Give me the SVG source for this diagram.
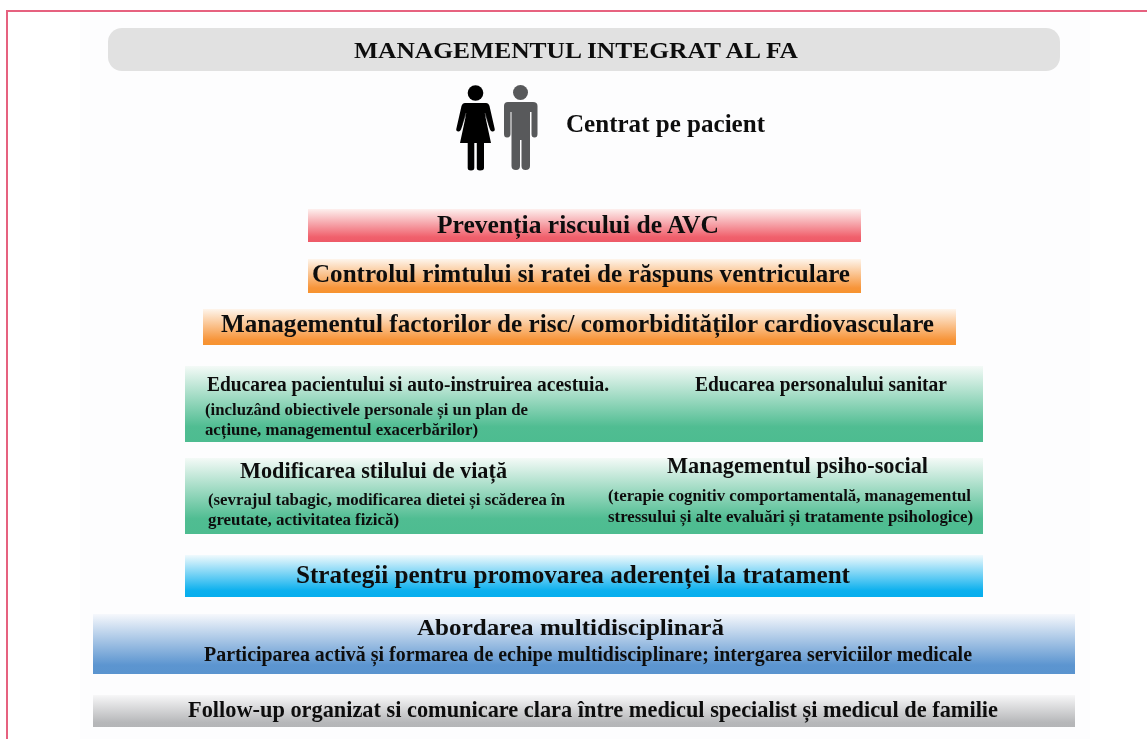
<svg xmlns="http://www.w3.org/2000/svg" width="1147" height="739" viewBox="0 0 1147 739">
<style>
text{font-family:"Liberation Serif","Times New Roman",serif;font-weight:bold;fill:#111}
.h1{font-size:24px}.h2{font-size:25px}.h3{font-size:20px}.h4{font-size:23px}.s{font-size:17px}.p{font-size:20px}.f{font-size:22.500px}
</style>
<defs>
<linearGradient id="red" x1="0" y1="0" x2="0" y2="1"><stop offset="0" stop-color="#fdf0ee"/><stop offset="0.85" stop-color="#f0606c"/><stop offset="1" stop-color="#ee5a68"/></linearGradient>
<linearGradient id="orange" x1="0" y1="0" x2="0" y2="1"><stop offset="0" stop-color="#fef5ec"/><stop offset="0.85" stop-color="#f7953a"/><stop offset="1" stop-color="#f7932f"/></linearGradient>
<linearGradient id="green" x1="0" y1="0" x2="0" y2="1"><stop offset="0" stop-color="#f4faf7"/><stop offset="0.8" stop-color="#50bd92"/><stop offset="1" stop-color="#4dbc90"/></linearGradient>
<linearGradient id="cyan" x1="0" y1="0" x2="0" y2="1"><stop offset="0" stop-color="#f0fafd"/><stop offset="0.85" stop-color="#0cb0ee"/><stop offset="1" stop-color="#06aeee"/></linearGradient>
<linearGradient id="blue" x1="0" y1="0" x2="0" y2="1"><stop offset="0" stop-color="#f6f8fc"/><stop offset="0.85" stop-color="#5c95d0"/><stop offset="1" stop-color="#5a94cf"/></linearGradient>
<linearGradient id="grey" x1="0" y1="0" x2="0" y2="1"><stop offset="0" stop-color="#f7f7f8"/><stop offset="0.85" stop-color="#b7b8ba"/><stop offset="1" stop-color="#b4b5b7"/></linearGradient>
<filter id="soft" x="-2%" y="-20%" width="104%" height="140%"><feGaussianBlur stdDeviation="0.45"/></filter>
</defs>
<rect width="1147" height="739" fill="#fff"/>
<rect x="80" y="13" width="1010" height="726" fill="#fdfdfe"/>
<path d="M7 739V11H1147" fill="none" stroke="#e6617f" stroke-width="2"/>

<g id="title">
<rect x="108" y="28" width="952" height="43" rx="14" fill="#e1e1e1"/>
<text class="h1" x="354" y="58" textLength="444" lengthAdjust="spacingAndGlyphs" filter="url(#soft)">MANAGEMENTUL INTEGRAT AL FA</text>
</g>

<g id="patient">
<g id="woman">
<circle cx="475.500" cy="93" r="7.800" fill="#000"/>
<path fill="#000" d="M465 103H486Q488.500 103 489.500 106L494.500 128Q495.500 131 493 131.500Q491 132 490 129.500L485 115L491 143H484V168Q484 170.500 480 170.500Q476.800 170.500 476.800 168V143H474.300V168Q474.300 170.500 471 170.500Q467.700 170.500 467.700 168V143H460L466 115L461 129.500Q460 132 458 131.500Q455.500 131 456.500 128L461.500 106Q462.500 103 465 103Z"/>
<path d="M466 113L463 124M485 113L488 124" stroke="#fff" stroke-width="0.600" fill="none" opacity="0.500"/>
</g>
<g id="man">
<circle cx="520.500" cy="92.500" r="7.500" fill="#58595b"/>
<path fill="#58595b" d="M508 102H533Q537.500 102 537.500 106V134Q537.500 137.500 534.500 137.500Q531.500 137.500 531.500 134V112H530V166Q530 170 525.500 170Q521.500 170 521.500 166V140H520V166Q520 170 516 170Q511.500 170 511.500 166V112H510.500V134Q510.500 137.500 507 137.500Q504 137.500 504 134V106Q504 102 508 102Z"/>
</g>
<text class="h2" x="566" y="132" textLength="199" lengthAdjust="spacingAndGlyphs" filter="url(#soft)">Centrat pe pacient</text>
</g>

<g id="stroke-prevention">
<rect x="308" y="209" width="553" height="33" fill="url(#red)"/>
<text class="h2" x="437" y="233" textLength="282" lengthAdjust="spacingAndGlyphs" filter="url(#soft)">Prevenția riscului de AVC</text>
</g>
<g id="rhythm-control">
<rect x="308" y="259" width="553" height="34" fill="url(#orange)"/>
<text class="h2" x="312" y="282" textLength="538" lengthAdjust="spacingAndGlyphs" filter="url(#soft)">Controlul rimtului si ratei de răspuns ventriculare</text>
</g>
<g id="risk-factors">
<rect x="203" y="309" width="753" height="36" fill="url(#orange)"/>
<text class="h2" x="221" y="332" textLength="713" lengthAdjust="spacingAndGlyphs" filter="url(#soft)">Managementul factorilor de risc/ comorbidităților cardiovasculare</text>
</g>
<g id="education">
<rect x="185" y="366" width="798" height="76" fill="url(#green)"/>
<text class="h3" x="207" y="391" textLength="402" lengthAdjust="spacingAndGlyphs" filter="url(#soft)">Educarea pacientului si auto-instruirea acestuia.</text>
<text class="h3" x="695" y="391" textLength="252" lengthAdjust="spacingAndGlyphs" filter="url(#soft)">Educarea personalului sanitar</text>
<text class="s" x="205" y="415" textLength="323" lengthAdjust="spacingAndGlyphs" filter="url(#soft)">(incluzând obiectivele personale și un plan de</text>
<text class="s" x="205" y="435" textLength="273" lengthAdjust="spacingAndGlyphs" filter="url(#soft)">acțiune, managementul exacerbărilor)</text>
</g>
<g id="lifestyle">
<rect x="185" y="458" width="798" height="76" fill="url(#green)"/>
<text class="h4" x="240" y="478" textLength="267" lengthAdjust="spacingAndGlyphs" filter="url(#soft)">Modificarea stilului de viață</text>
<text class="s" x="208" y="505" textLength="357" lengthAdjust="spacingAndGlyphs" filter="url(#soft)">(sevrajul tabagic, modificarea dietei și scăderea în</text>
<text class="s" x="208" y="525" textLength="191" lengthAdjust="spacingAndGlyphs" filter="url(#soft)">greutate, activitatea fizică)</text>
<text class="h4" x="667" y="473" textLength="261" lengthAdjust="spacingAndGlyphs" filter="url(#soft)">Managementul psiho-social</text>
<text class="s" x="608" y="501" textLength="363" lengthAdjust="spacingAndGlyphs" filter="url(#soft)">(terapie cognitiv comportamentală, managementul</text>
<text class="s" x="608" y="522" textLength="365" lengthAdjust="spacingAndGlyphs" filter="url(#soft)">stressului și alte evaluări și tratamente psihologice)</text>
</g>
<g id="adherence">
<rect x="185" y="555" width="798" height="42" fill="url(#cyan)"/>
<text class="h2" x="296" y="583" textLength="554" lengthAdjust="spacingAndGlyphs" filter="url(#soft)">Strategii pentru promovarea aderenței la tratament</text>
</g>
<g id="multidisciplinary">
<rect x="93" y="614" width="982" height="60" fill="url(#blue)"/>
<text class="h4" x="417" y="635" textLength="307" lengthAdjust="spacingAndGlyphs" filter="url(#soft)">Abordarea multidisciplinară</text>
<text class="p" x="204" y="661" textLength="768" lengthAdjust="spacingAndGlyphs" filter="url(#soft)">Participarea activă și formarea de echipe multidisciplinare; intergarea serviciilor medicale</text>
</g>
<g id="follow-up">
<rect x="93" y="695" width="982" height="32" fill="url(#grey)"/>
<text class="f" x="188" y="717" textLength="810" lengthAdjust="spacingAndGlyphs" filter="url(#soft)">Follow-up organizat si comunicare clara între medicul specialist și medicul de familie</text>
</g>
<g id="connectors"></g>
</svg>
